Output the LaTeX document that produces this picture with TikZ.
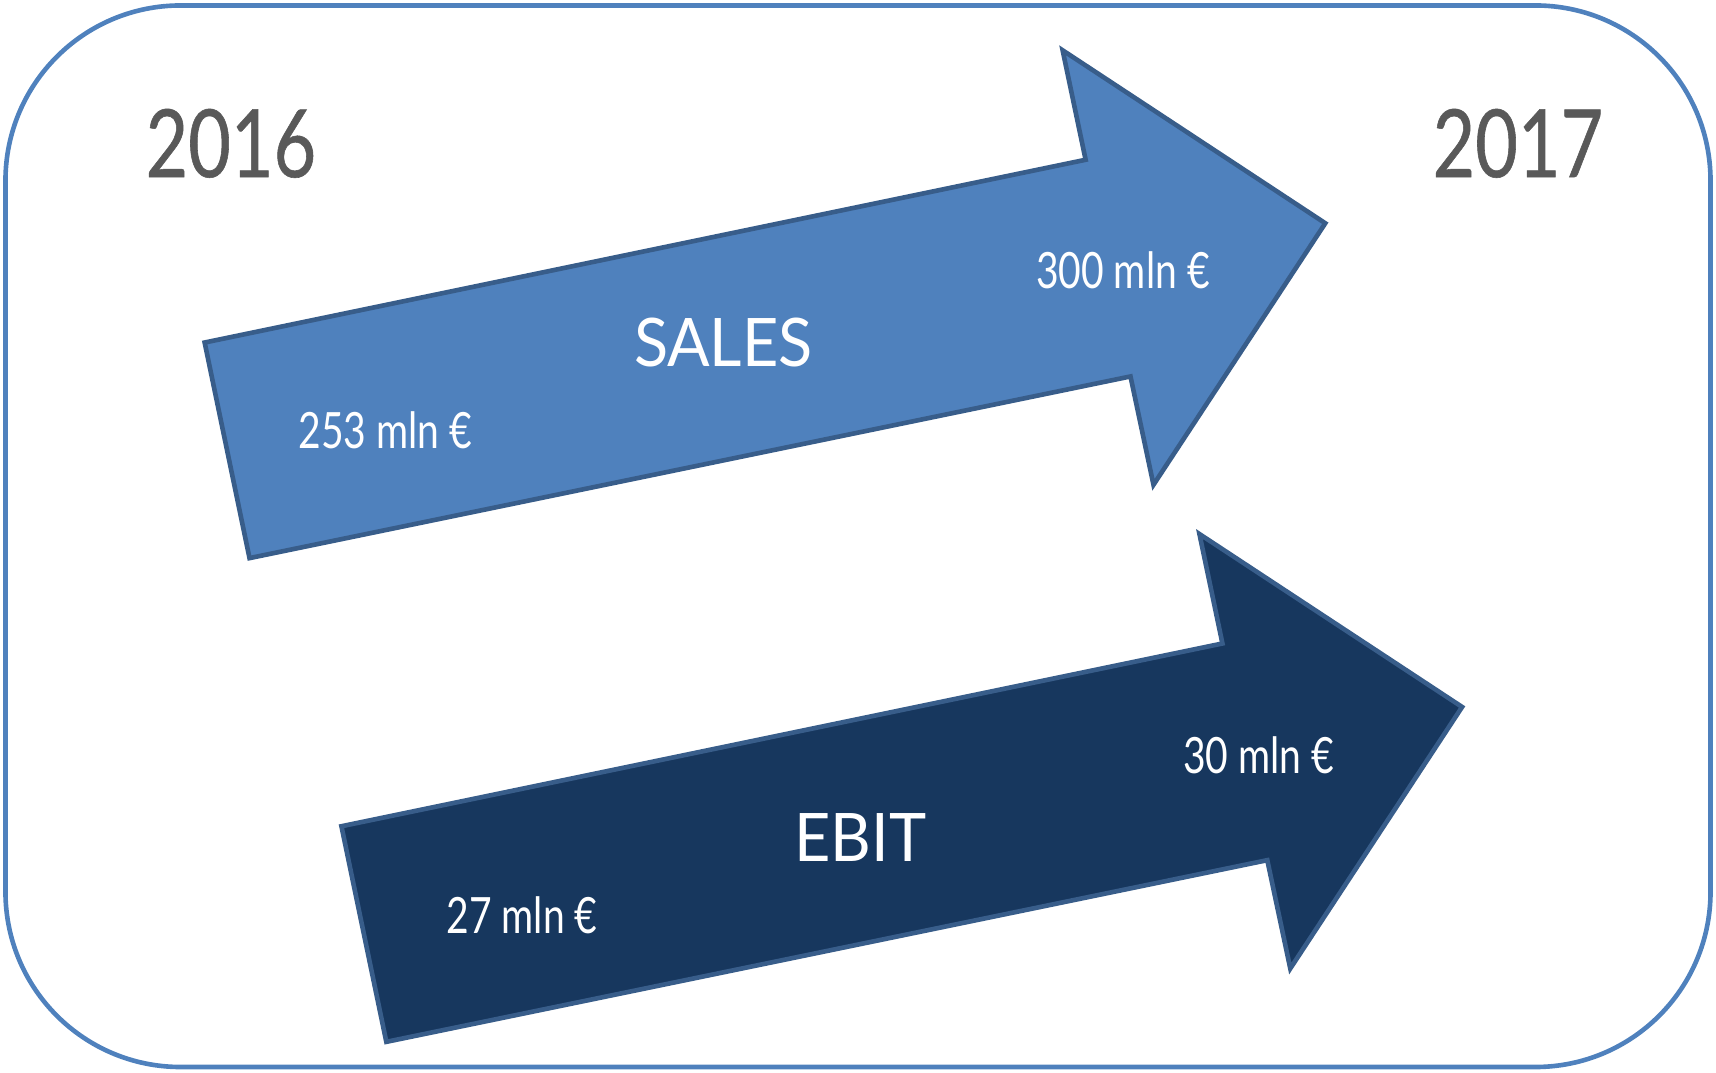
\documentclass[tikz,border=0pt]{standalone}
\usepackage{fontspec}
\setmainfont[FakeStretch=0.78]{Lato}
\newfontfamily\titlefont[FakeStretch=0.94]{Lato}
\newfontfamily\yearfont[FakeStretch=0.78,FakeBold=0.6]{Lato}
\definecolor{framec}{HTML}{4F81BD}
\definecolor{salesc}{HTML}{4F81BD}
\definecolor{ebitc}{HTML}{17375E}
\definecolor{edgec}{HTML}{385D8A}
\definecolor{yearc}{HTML}{595959}
\tikzset{
	year/.style={text=yearc,font=\yearfont\fontsize{24.5}{28}\selectfont,inner sep=0},
	title/.style={text=white,font=\titlefont\fontsize{17.4}{20}\selectfont,inner sep=0},
	value/.style={text=white,font=\fontsize{13}{15}\selectfont,inner sep=0},
	bigarrow/.style={draw=edgec,line width=1.2pt,line join=miter}
}
\begin{document}
\begin{tikzpicture}[x=0.01cm,y=-0.01cm]
	\useasboundingbox (0,0) rectangle (1568,980);
	\draw[framec,line width=1.2pt,rounded corners=1.6cm] (5,5) rectangle (1563,975);
	\node[year] (y1) at (211,131) {2016};
	\node[year] (y2) at (1387,131) {2017};
	\draw[bigarrow,fill=salesc] (187,313) -- (228,510) -- (1033,344) -- (1054,443) -- (1211,204) -- (971,46) -- (992,146) -- cycle;
	\draw[bigarrow,fill=ebitc] (312,755) -- (353,952) -- (1158,786) -- (1179,885) -- (1336,646) -- (1096,488) -- (1117,588) -- cycle;
	\node[title] (sales) at (661,313) {SALES};
	\node[value] (s1) at (352,393) {253 mln €};
	\node[value] (s2) at (1026,247) {300 mln €};
	\node[title] (ebit) at (786,765) {EBIT};
	\node[value] (e1) at (477,836) {27 mln €};
	\node[value] (e2) at (1150,690) {30 mln €};
\end{tikzpicture}
\end{document}
